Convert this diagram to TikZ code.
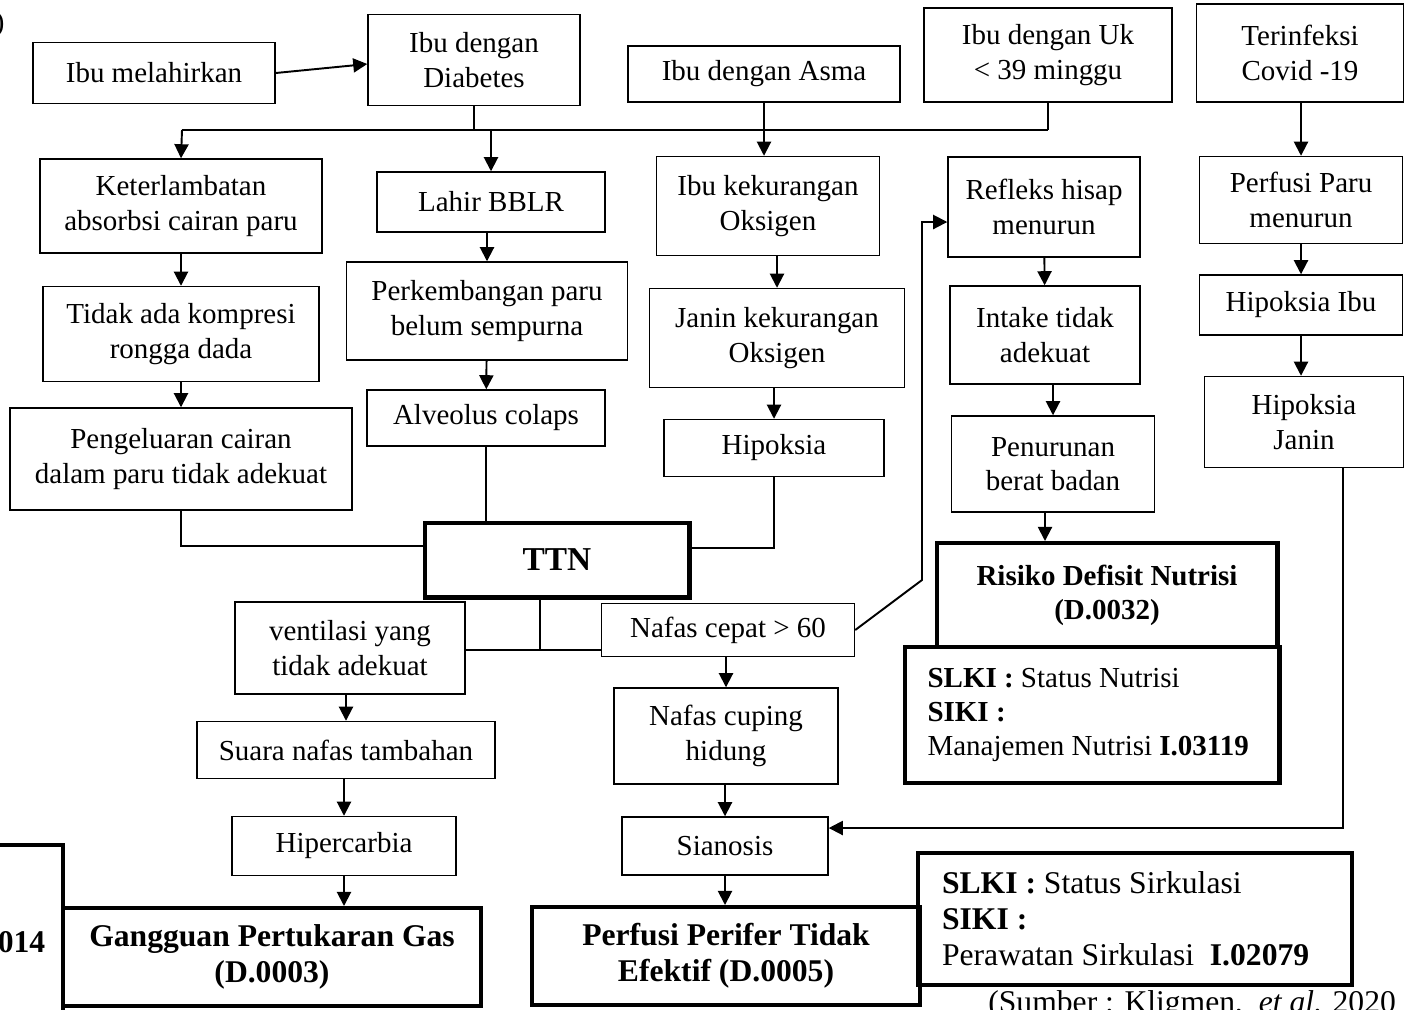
\documentclass[tikz,border=0pt]{standalone}
\usepackage{fontspec}
\setmainfont{Liberation Serif}
\usetikzlibrary{arrows.meta,calc}

\tikzset{
  box/.style={draw, line width=0.85pt, align=center, inner sep=2pt},
  thickbox/.style={draw, line width=2.3pt, align=center, inner sep=2pt},
  link/.style={line width=0.85pt},
  arr/.style={line width=1.1pt, -{Triangle[length=8pt,width=8pt]}},
  bigtext/.style={font=\fontsize{18}{20.5}\selectfont},
}

\begin{document}
\begin{tikzpicture}[x=0.02cm, y=-0.02cm,
  every node/.style={font=\fontsize{16.5}{19.5}\selectfont}]
\useasboundingbox (0,0) rectangle (1405,1009);
\clip (0,0) rectangle (1405,1009);

% baris atas
\node[anchor=base east, inner sep=0pt] (sisa) at (5,31) {)};
\node[box, minimum width=4.84cm, minimum height=1.22cm] (melahirkan) at (154,73) {Ibu melahirkan};
\node[box, minimum width=4.24cm, minimum height=1.82cm] (diabetes) at (474,60) {Ibu dengan\\Diabetes};
\node[box, minimum width=5.44cm, minimum height=1.12cm] (asma) at (764,74) {Ibu dengan Asma};
\node[box, minimum width=4.96cm, minimum height=1.88cm] (uk) at (1048,55) {Ibu dengan Uk\\< 39 minggu};
\node[box, minimum width=4.14cm, minimum height=1.96cm] (covid) at (1300,53) {Terinfeksi\\Covid -19};

% kolom kiri
\node[box, minimum width=5.64cm, minimum height=1.88cm] (lambat) at (181,206) {Keterlambatan\\absorbsi cairan paru};
\node[box, minimum width=5.52cm, minimum height=1.9cm] (kompresi) at (181,334) {Tidak ada kompresi\\rongga dada};
\node[box, minimum width=6.84cm, minimum height=2.04cm] (pengeluaran) at (181,459) {Pengeluaran cairan\\dalam paru tidak adekuat};

% kolom BBLR
\node[box, minimum width=4.56cm, minimum height=1.2cm] (bblr) at (491,202) {Lahir BBLR};
\node[box, minimum width=5.62cm, minimum height=1.96cm] (paru) at (487,311) {Perkembangan paru\\belum sempurna};
\node[box, minimum width=4.76cm, minimum height=1.12cm] (alveolus) at (486,418) {Alveolus colaps};

% kolom oksigen
\node[box, minimum width=4.46cm, minimum height=1.98cm] (ibuoks) at (768,206) {Ibu kekurangan\\Oksigen};
\node[box, minimum width=5.1cm, minimum height=1.98cm] (janinoks) at (777,338) {Janin kekurangan\\Oksigen};
\node[box, minimum width=4.4cm, minimum height=1.14cm] (hipoksia) at (774,448) {Hipoksia};

% kolom nutrisi
\node[box, minimum width=3.84cm, minimum height=2cm] (refleks) at (1044,207) {Refleks hisap\\menurun};
\node[box, minimum width=3.8cm, minimum height=1.96cm] (intake) at (1045,335) {Intake tidak\\adekuat};
\node[box, minimum width=4.06cm, minimum height=1.92cm] (penurunan) at (1053,464) {Penurunan\\berat badan};
\node[thickbox, minimum width=6.82cm, minimum height=2.08cm] (risiko) at (1107,595) {\textbf{Risiko Defisit Nutrisi}\\\textbf{(D.0032)}};
\node[thickbox, minimum width=7.5cm, minimum height=2.72cm, text width=6.58cm, align=left, inner xsep=0.46cm] (slkinut) at (1092,715)
  {\spaceskip=0pt\xspaceskip=0pt\relax
   \textbf{SLKI :} Status Nutrisi\\\textbf{SIKI :}\\Manajemen Nutrisi \textbf{I.03119}};

% kolom covid
\node[box, minimum width=4.06cm, minimum height=1.74cm] (perfparu) at (1301,200) {Perfusi Paru\\menurun};
\node[box, minimum width=4.06cm, minimum height=1.2cm] (hipoibu) at (1301,305) {Hipoksia Ibu};
\node[box, minimum width=3.98cm, minimum height=1.82cm] (hipojanin) at (1304,422) {Hipoksia\\Janin};

% TTN dan turunannya
\node[thickbox, minimum width=5.3cm, minimum height=1.5cm, font=\fontsize{19}{22}\selectfont\bfseries] (ttn) at (557,560) {TTN};
\node[box, minimum width=4.6cm, minimum height=1.84cm] (ventilasi) at (350,648) {ventilasi yang\\tidak adekuat};
\node[box, minimum width=5.06cm, minimum height=1.06cm] (nafas) at (728,630) {Nafas cepat > 60};
\node[box, minimum width=5.96cm, minimum height=1.14cm] (suara) at (346,750) {Suara nafas tambahan};
\node[box, minimum width=4.48cm, minimum height=1.18cm] (hipercarbia) at (344,846) {Hipercarbia};
\node[box, minimum width=4.48cm, minimum height=1.92cm] (cuping) at (726,736) {Nafas cuping\\hidung};
\node[box, minimum width=4.12cm, minimum height=1.16cm] (sianosis) at (725,846) {Sianosis};

% diagnosa bawah
\node[thickbox, minimum width=1.66cm, minimum height=3.9cm, bigtext] (kode) at (21.5,942) {\textbf{014}};
\node[thickbox, minimum width=8.36cm, minimum height=1.96cm, bigtext] (gangguan) at (272,957) {\textbf{Gangguan Pertukaran Gas}\\\textbf{(D.0003)}};
\node[thickbox, minimum width=7.76cm, minimum height=1.96cm, bigtext] (perifer) at (726,956) {\textbf{Perfusi Perifer Tidak}\\\textbf{Efektif (D.0005)}};
\node[thickbox, minimum width=8.68cm, minimum height=2.64cm, text width=7.72cm, align=left, inner xsep=0.48cm, bigtext] (slkisirk) at (1135,919)
  {\spaceskip=0pt\xspaceskip=0pt\relax
   \textbf{SLKI :} Status Sirkulasi\\\textbf{SIKI :}\\Perawatan Sirkulasi\ \ \textbf{I.02079}};
\node[anchor=base west, inner sep=0pt, bigtext] (sumber) at (988,1012) {(Sumber : Kligmen,\ \ \textit{et al.} 2020};

% garis bus atas
\coordinate (busL) at (182,130);
\coordinate (busR) at (uk.south |- busL);
\draw[arr] (melahirkan.east) -- ([yshift=-0.08cm]diabetes.west);
\draw[link] (busL) -- (busR);
\draw[link] (diabetes.south) -- (diabetes.south |- busL);
\draw[link] (uk.south) -- (busR);
\draw[arr] (busL) -- (lambat.north);
\draw[arr] (bblr.north |- busL) -- (bblr.north);
\draw[arr] (asma.south) -- (asma.south |- ibuoks.north);

% panah vertikal
\draw[arr] (lambat) -- (kompresi);
\draw[arr] (kompresi) -- (pengeluaran);
\draw[arr] (paru.north |- bblr.south) -- (paru.north);
\draw[arr] (paru) -- (alveolus);
\draw[arr] (janinoks.north |- ibuoks.south) -- (janinoks.north);
\draw[arr] (hipoksia.north |- janinoks.south) -- (hipoksia.north);
\draw[arr] (refleks) -- (intake);
\draw[arr] (penurunan.north |- intake.south) -- (penurunan.north);
\draw[arr] (intake.south |- penurunan.south) -- (intake.south |- risiko.north);
\draw[arr] (covid.south -| hipoibu) -- (perfparu.north -| hipoibu);
\draw[arr] (perfparu) -- (hipoibu);
\draw[arr] (hipoibu) -- (hipoibu |- hipojanin.north);

% menuju TTN
\draw[link] (pengeluaran.south) |- ([yshift=0.28cm]ttn.west);
\draw[link] (alveolus) -- (alveolus |- ttn.north);
\draw[link] (hipoksia.south) |- ([yshift=0.24cm]ttn.east);

% dari TTN
\coordinate (cabang) at (540,650);
\draw[link] (ttn.south -| cabang) -- (cabang);
\draw[link] (ventilasi.east |- cabang) -- (nafas.west |- cabang);
\coordinate (nr1) at (922,580);
\coordinate (nr2) at (922,222);
\draw[arr] (nafas.east) -- (nr1) -- (nr2) -- (refleks.west |- nr2);
\draw[arr] (ventilasi.south -| suara) -- (suara.north);
\draw[arr] (hipercarbia.north |- suara.south) -- (hipercarbia.north);
\draw[arr] (hipercarbia.south) -- (hipercarbia.south |- gangguan.north);
\draw[arr] (nafas.south -| cuping) -- (cuping.north);
\draw[arr] (sianosis.north |- cuping.south) -- (sianosis.north);
\draw[arr] (sianosis) -- (sianosis |- perifer.north);

% hipoksia janin ke sianosis
\coordinate (jr) at (1343,828);
\draw[arr] (hipojanin.south -| jr) -- (jr) -- (sianosis.east |- jr);
\end{tikzpicture}
\end{document}
